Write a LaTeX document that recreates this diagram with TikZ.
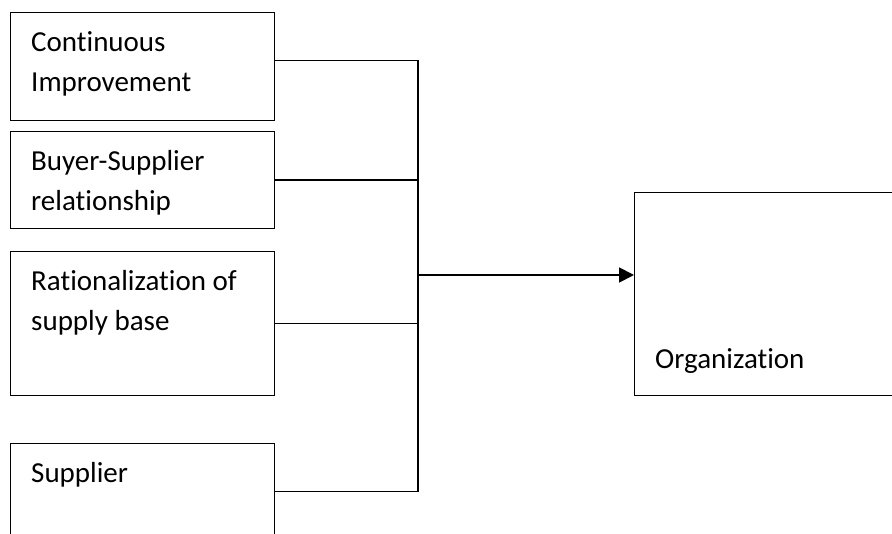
\documentclass[tikz,border=0pt]{standalone}
\usepackage{fontspec}
\setmainfont{Carlito}[Ligatures=NoCommon]
\usetikzlibrary{arrows.meta}
\newcommand{\boxfont}{\fontsize{29}{40}\selectfont}

\begin{document}
\begin{tikzpicture}[x=1pt,y=-1pt,
  factor/.style={draw, line width=1.2pt, rectangle, inner sep=0pt, minimum width=264pt, anchor=north west},
  boxtext/.style={anchor=north west, inner sep=0pt, align=left, font=\boxfont, xshift=21pt, yshift=-11pt},
  link/.style={line width=1.2pt},
  arr/.style={line width=1.8pt, -{Triangle[length=15pt,width=15pt]}}]
\clip (0,0) rectangle (892,534);
% factor boxes on the left
\node [factor, minimum height=108pt, label={[boxtext]north west:\strut Continuous\\\strut Improvement}] (ci) at (10,12) {};
\node [factor, minimum height=97pt, label={[boxtext]north west:\strut Buyer-Supplier\\\strut relationship}] (bsr) at (10,131) {};
\node [factor, minimum height=144pt, label={[boxtext]north west:\strut Rationalization of\\\strut supply base}] (rsb) at (10,251) {};
\node [factor, minimum height=96pt, label={[boxtext]north west:\strut Supplier}] (sup) at (10,443) {};
% organization box
\node [draw, line width=1.2pt, inner sep=0pt, minimum width=300pt, minimum height=203pt, anchor=north west,
  label={[anchor=base west, inner sep=0pt, font=\boxfont, xshift=21pt, yshift=28pt]south west:Organization}] (org) at (634,192) {};
% bus and arrow
\coordinate (bus) at (418,0);
\coordinate (jn) at (418,275);
\draw [link] ([yshift=6pt]ci.east) -| (sup.east -| bus) -- (sup.east);
\draw [link] (bsr.east) -- (bsr.east -| bus);
\draw [link] (rsb.east) -- (rsb.east -| bus);
\draw [arr] (jn) -- (jn -| org.west);
\end{tikzpicture}
\end{document}
